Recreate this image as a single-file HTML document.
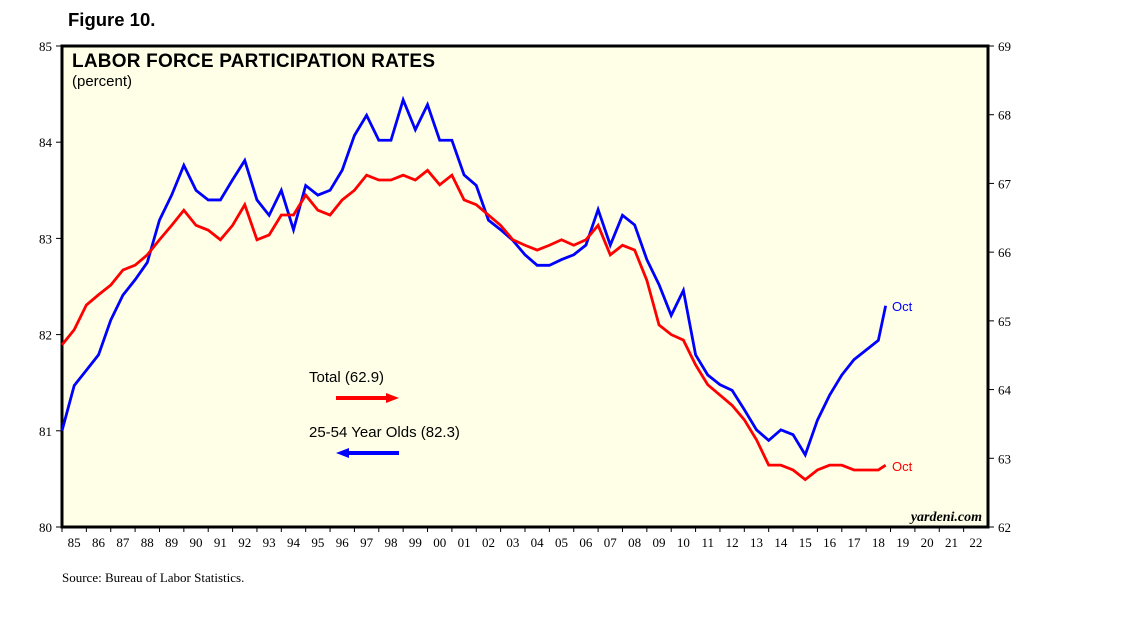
<!DOCTYPE html>
<html><head><meta charset="utf-8">
<style>
body{margin:0;background:#fff;width:1138px;height:621px;overflow:hidden;font-family:"Liberation Sans",sans-serif}
</style></head>
<body>
<svg id="chart" width="1138" height="621" xmlns="http://www.w3.org/2000/svg">
<text x="68" y="26" font-size="18.5" font-weight="bold" font-family="Liberation Sans">Figure 10.</text>
<rect x="62" y="46" width="926" height="481" fill="#ffffe8" stroke="#000" stroke-width="3"/>
<text x="72" y="67" font-size="19" font-weight="bold" textLength="363" font-family="Liberation Sans">LABOR FORCE PARTICIPATION RATES</text>
<text x="72" y="86" font-size="15" font-family="Liberation Sans">(percent)</text>
<g id="axes"></g>
<g id="series"></g>
<text x="309" y="382" font-size="15" font-family="Liberation Sans">Total (62.9)</text>
<line x1="336" y1="398" x2="388" y2="398" stroke="#f00" stroke-width="4"/>
<polygon points="386,393 399,398 386,403" fill="#f00"/>
<text x="309" y="437" font-size="15" font-family="Liberation Sans">25-54 Year Olds (82.3)</text>
<line x1="347" y1="453" x2="399" y2="453" stroke="#00f" stroke-width="4"/>
<polygon points="349,448 336,453 349,458" fill="#00f"/>
<text x="892" y="311" font-size="13" fill="#00f" font-family="Liberation Sans">Oct</text>
<text x="892" y="471" font-size="13" fill="#f00" font-family="Liberation Sans">Oct</text>
<text x="982" y="521" font-size="14" font-style="italic" font-weight="bold" text-anchor="end" font-family="Liberation Serif">yardeni.com</text>
<text x="62" y="582" font-size="13" font-family="Liberation Serif">Source: Bureau of Labor Statistics.</text>
</svg>
<script>
const years=[1985,1985.5,1986,1986.5,1987,1987.5,1988,1988.5,1989,1989.5,1990,1990.5,1991,1991.5,1992,1992.5,1993,1993.5,1994,1994.5,1995,1995.5,1996,1996.5,1997,1997.5,1998,1998.5,1999,1999.5,2000,2000.5,2001,2001.5,2002,2002.5,2003,2003.5,2004,2004.5,2005,2005.5,2006,2006.5,2007,2007.5,2008,2008.5,2009,2009.5,2010,2010.5,2011,2011.5,2012,2012.5,2013,2013.5,2014,2014.5,2015,2015.5,2016,2016.5,2017,2017.5,2018,2018.5,2018.8];
const prime=[81.0,81.47,81.63,81.79,82.15,82.41,82.57,82.75,83.19,83.45,83.76,83.5,83.4,83.4,83.61,83.81,83.4,83.24,83.5,83.09,83.55,83.45,83.5,83.71,84.07,84.28,84.02,84.02,84.44,84.13,84.39,84.02,84.02,83.66,83.55,83.19,83.09,82.98,82.83,82.72,82.72,82.78,82.83,82.93,83.3,82.93,83.24,83.14,82.78,82.52,82.2,82.46,81.79,81.58,81.48,81.42,81.22,81.01,80.9,81.01,80.96,80.75,81.11,81.37,81.58,81.74,81.84,81.94,82.3];
const total=[64.65,64.87,65.23,65.38,65.52,65.74,65.81,65.96,66.18,66.39,66.61,66.39,66.32,66.18,66.39,66.69,66.18,66.25,66.54,66.54,66.83,66.61,66.54,66.76,66.9,67.12,67.05,67.05,67.12,67.05,67.19,66.98,67.12,66.76,66.69,66.54,66.39,66.18,66.1,66.03,66.1,66.18,66.1,66.18,66.39,65.96,66.1,66.03,65.59,64.94,64.8,64.72,64.36,64.07,63.92,63.77,63.56,63.27,62.9,62.9,62.83,62.69,62.83,62.9,62.9,62.83,62.83,62.83,62.9];
const leftTicks=[80,81,82,83,84,85];
const rightTicks=[62,63,64,65,66,67,68,69];
const yearLabels=["85","86","87","88","89","90","91","92","93","94","95","96","97","98","99","00","01","02","03","04","05","06","07","08","09","10","11","12","13","14","15","16","17","18","19","20","21","22"];
const X0=62,X1=988,Y0=527,Y1=46;
const xs=y=>X0+(y-1985)*(X1-X0)/38;
const yl=v=>Y0-(v-80)*(Y0-Y1)/5;
const yr=v=>Y0-(v-62)*(Y0-Y1)/7;
const NS="http://www.w3.org/2000/svg";
const axes=document.getElementById('axes'),ser=document.getElementById('series');
function mk(tag,attrs,parent){const e=document.createElementNS(NS,tag);for(const k in attrs)e.setAttribute(k,attrs[k]);parent.appendChild(e);return e;}
leftTicks.forEach(v=>{
 const t=mk('line',{x1:X0-6,x2:X0,y1:yl(v),y2:yl(v),stroke:'#000'},axes);
 
 
 const l=mk('text',{x:X0-10,y:yl(v)+5,'text-anchor':'end','font-size':13,'font-family':'Liberation Serif'},axes);l.textContent=v;
 
 
});
rightTicks.forEach(v=>{
 const t=mk('line',{x1:X1,x2:X1+6,y1:yr(v),y2:yr(v),stroke:'#000'},axes);
 
 
 const l=mk('text',{x:X1+10,y:yr(v)+5,'font-size':13,'font-family':'Liberation Serif'},axes);l.textContent=v;
 
 
});
yearLabels.forEach((s,i)=>{
 const t=mk('line',{x1:xs(1985+i),x2:xs(1985+i),y1:Y0,y2:Y0+5,stroke:'#000'},axes);
 
 
 const l=mk('text',{x:xs(1985.5+i),y:Y0+20,'text-anchor':'middle','font-size':13,'font-family':'Liberation Serif'},axes);l.textContent=s;
 
 
});
const pr=mk('polyline',{points:years.map((y,i)=>xs(y)+','+yl(prime[i])).join(' '),fill:'none',stroke:'#00f','stroke-width':2.8},ser);


const tt=mk('polyline',{points:years.map((y,i)=>xs(y)+','+yr(total[i])).join(' '),fill:'none',stroke:'#f00','stroke-width':2.8},ser);


</script>
</body></html>
